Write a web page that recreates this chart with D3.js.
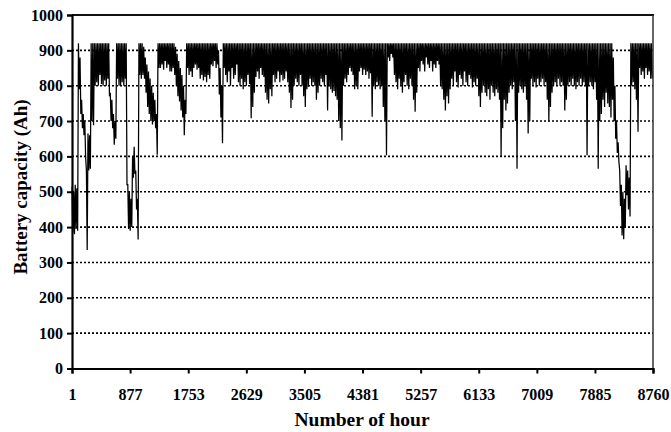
<!DOCTYPE html>
<html>
<head>
<meta charset="utf-8">
<script src="https://cdn.jsdelivr.net/npm/d3@7"></script>
<style>
  body { margin: 0; background: #fff; }
  svg text { font-family: "Liberation Serif", "Times New Roman", serif; font-weight: bold; fill: #000; }
</style>
</head>
<body>
<svg id="chart" width="671" height="432"></svg>
<script>
// Daily low of battery capacity (Ah), day 0..364
const dayLow = [
  385, 380, 395, 390, 790, 720, 680, 660, 600, 335,
  560, 565, 700, 688, 800, 810, 800, 830, 805, 800,
  815, 800, 820, 770, 700, 680, 633, 650, 820, 800,
  800, 810, 800, 820, 520, 395, 390, 400, 540, 550,
  450, 365, 830, 820, 830, 820, 780, 740, 720, 700,
  690, 700, 680, 605, 850, 850, 860, 845, 870, 850,
  860, 840, 840, 850, 830, 800, 770, 755, 730, 710,
  660, 720, 850, 830, 840, 825, 850, 860, 845, 850,
  820, 830, 815, 825, 810, 830, 820, 860, 855, 870,
  850, 860, 775, 710, 637, 850, 830, 810, 840, 800,
  850, 820, 830, 860, 810, 800, 820, 790, 810, 800,
  830, 805, 708, 740, 780, 825, 840, 820, 850, 830,
  825, 780, 760, 750, 790, 770, 830, 810, 820, 840,
  810, 830, 815, 820, 840, 810, 780, 737, 760, 800,
  820, 810, 800, 830, 800, 770, 740, 790, 797, 820,
  800, 810, 800, 760, 780, 800, 820, 810, 800, 830,
  730, 800, 790, 780, 785, 770, 760, 700, 680, 645,
  800, 820, 810, 830, 850, 840, 830, 790, 800, 790,
  840, 850, 830, 845, 830, 840, 820, 835, 712, 800,
  790, 810, 800, 790, 800, 740, 700, 603, 880, 870,
  890, 880, 830, 810, 790, 820, 800, 780, 810, 830,
  800, 790, 820, 800, 760, 726, 780, 850, 840, 870,
  860, 840, 880, 860, 850, 870, 840, 860, 850, 870,
  860, 800, 790, 760, 730, 770, 750, 790, 820, 800,
  840, 810, 795, 830, 820, 800, 840, 810, 800, 830,
  820, 795, 810, 800, 820, 770, 740, 780, 800, 780,
  770, 790, 760, 800, 780, 770, 790, 780, 760, 600,
  680, 760, 730, 750, 780, 800, 790, 810, 700, 565,
  780, 800, 790, 780, 800, 760, 665, 700, 820, 800,
  810, 795, 820, 800, 810, 820, 800, 810, 760, 700,
  740, 780, 800, 810, 800, 820, 800, 810, 800, 730,
  760, 800, 810, 800, 820, 800, 790, 810, 800, 820,
  800, 810, 800, 603, 800, 810, 800, 790, 810, 760,
  565, 700, 720, 760, 740, 780, 750, 740, 710, 760,
  700, 650, 610, 585, 460, 376, 366, 400, 490, 450,
  430, 800, 810, 790, 760, 670, 850, 830, 840, 820,
  850, 830, 840, 820, 820
];

// Daily high of battery capacity (Ah), day 0..364
const dayHigh = [
  515, 500, 520, 510, 920, 880, 760, 720, 700, 560,
  665, 660, 920, 920, 920, 920, 920, 920, 920, 920,
  920, 920, 920, 920, 780, 760, 720, 700, 920, 920,
  920, 920, 920, 920, 920, 520, 500, 480, 600, 627,
  560, 480, 920, 920, 920, 910, 880, 860, 840, 820,
  800, 780, 760, 720, 920, 920, 920, 920, 920, 920,
  920, 920, 920, 920, 920, 910, 890, 870, 850, 830,
  800, 760, 920, 920, 920, 920, 920, 920, 920, 920,
  920, 920, 920, 920, 920, 920, 920, 920, 920, 920,
  920, 920, 900, 850, 800, 920, 920, 920, 920, 920,
  920, 920, 920, 920, 920, 920, 920, 920, 920, 920,
  920, 920, 920, 920, 920, 920, 920, 920, 920, 920,
  920, 920, 920, 920, 920, 920, 920, 920, 920, 920,
  920, 920, 920, 920, 920, 920, 920, 920, 920, 920,
  920, 920, 920, 920, 920, 920, 920, 920, 920, 920,
  920, 920, 920, 920, 920, 920, 920, 920, 920, 920,
  920, 920, 920, 920, 920, 920, 920, 920, 920, 920,
  920, 920, 920, 920, 920, 920, 920, 920, 920, 920,
  920, 920, 920, 920, 920, 920, 920, 920, 920, 920,
  920, 920, 920, 920, 920, 920, 920, 920, 920, 920,
  920, 920, 920, 920, 920, 920, 920, 920, 920, 920,
  920, 920, 920, 920, 920, 920, 920, 920, 920, 920,
  920, 920, 920, 920, 920, 920, 920, 920, 920, 920,
  920, 920, 920, 920, 920, 920, 920, 920, 920, 920,
  920, 920, 920, 920, 920, 920, 920, 920, 920, 920,
  920, 920, 920, 920, 920, 920, 920, 920, 920, 920,
  920, 920, 920, 920, 920, 920, 920, 920, 920, 920,
  920, 920, 920, 920, 920, 920, 920, 920, 920, 920,
  920, 920, 920, 920, 920, 920, 920, 920, 920, 920,
  920, 920, 920, 920, 920, 920, 920, 920, 920, 920,
  920, 920, 920, 920, 920, 920, 920, 920, 920, 920,
  920, 920, 920, 920, 920, 920, 920, 920, 920, 920,
  920, 920, 920, 920, 920, 920, 920, 920, 920, 920,
  920, 920, 920, 920, 920, 920, 920, 920, 920, 920,
  880, 800, 700, 640, 560, 520, 500, 480, 575, 560,
  540, 920, 920, 920, 920, 920, 920, 920, 920, 920,
  920, 920, 920, 920, 920
];

const yTicks = [0, 100, 200, 300, 400, 500, 600, 700, 800, 900, 1000];
const xTicks = [1, 877, 1753, 2629, 3505, 4381, 5257, 6133, 7009, 7885, 8760];
const xTitle = 'Number of hour';
const yTitle = 'Battery capacity (Ah)';

const plotLeft = 72, plotRight = 653, plotTop = 15, plotBottom = 368.5;

const svg = d3.select('#chart');

const x = d3.scaleLinear().domain([1, 8760]).range([plotLeft, plotRight]);
const y = d3.scaleLinear().domain([0, 1000]).range([plotBottom, plotTop]);

// one high and one low per day, in hours
const points = [];
dayLow.forEach((low, d) => {
    points.push({ hour: d * 24 + 2, value: dayHigh[d] });
    points.push({ hour: d * 24 + 14, value: low });
});

//dotted gridlines
svg.selectAll('line.grid')
    .data(yTicks.filter(t => t > 0 && t < 1000))
    .enter()
    .append('line')
    .attr('class', 'grid')
    .attr('x1', plotLeft)
    .attr('x2', plotRight)
    .attr('y1', d => y(d))
    .attr('y2', d => y(d))
    .attr('stroke', '#000')
    .attr('stroke-width', 1.6)
    .attr('stroke-dasharray', '2,2');

// data line
const line = d3.line()
    .x(d => x(d.hour))
    .y(d => y(d.value));

svg.append('path')
    .datum(points)
    .attr('d', line)
    .attr('fill', 'none')
    .attr('stroke', '#000')
    .attr('stroke-width', 1.25);

// box top + right
svg.append('line')
    .attr('x1', plotLeft).attr('x2', plotRight + 1)
    .attr('y1', plotTop).attr('y2', plotTop)
    .attr('stroke', '#111').attr('stroke-width', 2);
svg.append('line')
    .attr('x1', plotRight).attr('x2', plotRight)
    .attr('y1', plotTop).attr('y2', plotBottom)
    .attr('stroke', '#333').attr('stroke-width', 1.5);

// axes
const yAxis = svg.append('g')
    .attr('transform', `translate(${plotLeft},0)`)
    .call(d3.axisLeft(y).tickValues(yTicks).tickFormat(d3.format('d')).tickSizeOuter(0).tickSize(5).tickPadding(4));

const xAxis = svg.append('g')
    .attr('transform', `translate(0,${plotBottom})`)
    .call(d3.axisBottom(x).tickValues(xTicks).tickFormat(d3.format('d')).tickSizeOuter(0).tickSize(5).tickPadding(15));

[yAxis, xAxis].forEach(g => {
    g.select('.domain').attr('stroke', '#000').attr('stroke-width', 2.2);
    g.selectAll('.tick line').attr('stroke', '#000').attr('stroke-width', 2);
    g.selectAll('.tick text').attr('font-size', 16).attr('font-family', null);
});
// d3 sets font on the axis group, drop it so the css font applies
yAxis.attr('font-family', null).attr('font-size', null);
xAxis.attr('font-family', null).attr('font-size', null);

// titles
svg.append('text')
    .attr('x', 362)
    .attr('y', 426)
    .attr('text-anchor', 'middle')
    .attr('font-size', 19.5)
    .text(xTitle);

svg.append('text')
    .attr('transform', 'translate(27,187) rotate(-90)')
    .attr('text-anchor', 'middle')
    .attr('font-size', 19)
    .text(yTitle);
</script>
</body>
</html>
